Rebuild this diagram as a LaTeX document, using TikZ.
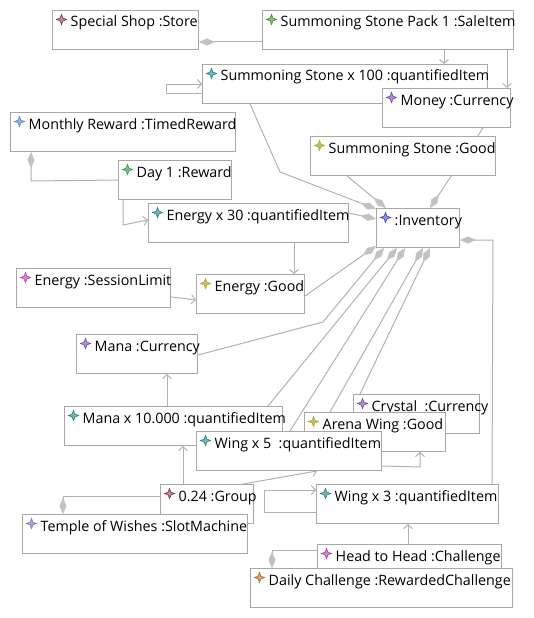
\documentclass[tikz,border=0pt]{standalone}
\usepackage{fontspec}
\setmainfont{Open Sans}
\usetikzlibrary{arrows.meta,calc}
\pgfdeclarelayer{bg}
\pgfsetlayers{bg,main}
\definecolor{boxgray}{HTML}{A8A8A8}
\definecolor{linegray}{HTML}{B2B2B2}
\definecolor{diagray}{HTML}{C2C2C2}
\definecolor{cstore}{HTML}{8B3A62}
\definecolor{csale}{HTML}{4E9A3A}
\definecolor{cquant}{HTML}{2E8B8B}
\definecolor{ccur}{HTML}{7B52AB}
\definecolor{ctimed}{HTML}{6A8FCF}
\definecolor{creward}{HTML}{3F9F4F}
\definecolor{cgood}{HTML}{B5B02E}
\definecolor{cinv}{HTML}{4B4BC8}
\definecolor{csession}{HTML}{CC44BB}
\definecolor{cslot}{HTML}{8A7FD0}
\definecolor{cchal}{HTML}{C040C0}
\definecolor{crewch}{HTML}{B8763A}
\tikzset{
  objbox/.style={draw=boxgray, fill=white, line width=1pt, rectangle, inner sep=0pt, minimum height=39pt},
  objtext/.style={anchor=base west, inner sep=0pt, font=\fontsize{14.3}{16}\selectfont, text=black},
  staricon/.style={line width=0.7pt},
  conn/.style={draw=linegray, line width=1pt},
  arr/.style={conn, -{Straight Barb[length=4pt,width=9pt,line width=1pt]}},
  dia/.style={conn, {Diamond[length=16pt,width=7pt,color=diagray,fill=diagray,line width=0.5pt]}-},
}
\newcommand\umlobj[6]{%
  \node[objbox, minimum width=#4pt, anchor=north west] (#1) at (#2,#3) {};
  \draw[staricon, draw=#5, fill=#5!35!lightgray] ($(#1.north west)+(9.5,9.5)$)
    +(0,-5) -- +(1.4,-1.4) -- +(5,0) -- +(1.4,1.4) -- +(0,5) -- +(-1.4,1.4) -- +(-5,0) -- +(-1.4,-1.4) -- cycle;
  \node[objtext] (#1-t) at ($(#1.north west)+(18.5,17)$) {#6};
}
\begin{document}
\begin{tikzpicture}[x=1pt,y=-1pt]
\begin{pgfonlayer}{bg}
\fill[white] (0,0) rectangle (533,618);
\end{pgfonlayer}
\useasboundingbox (0,0) rectangle (533,618);

\umlobj{shop}{52}{10}{146}{cstore}{Special Shop :Store}
\umlobj{sale}{262}{10}{251}{csale}{Summoning Stone Pack 1 :SaleItem}
\umlobj{ss100}{202}{64}{285}{cquant}{Summoning Stone x 100 :quantifiedItem}
\umlobj{money}{382}{88}{128}{ccur}{Money :Currency}
\umlobj{monthly}{10}{112}{225}{ctimed}{Monthly Reward :TimedReward}
\umlobj{day1}{118}{160}{113}{creward}{Day 1 :Reward}
\umlobj{ssgood}{310}{136}{185}{cgood}{Summoning Stone :Good}
\umlobj{en30}{148}{203}{200}{cquant}{Energy x 30 :quantifiedItem}
\umlobj{inv}{376}{208}{83}{cinv}{:Inventory}
\umlobj{ensl}{16}{268}{154}{csession}{Energy :SessionLimit}
\umlobj{engood}{196}{274}{108}{cgood}{Energy :Good}
\umlobj{manacur}{76}{334}{121}{ccur}{Mana :Currency}
\umlobj{mana10k}{64}{406}{218}{cquant}{Mana x 10.000 :quantifiedItem}
\umlobj{crystal}{353}{394}{126}{ccur}{Crystal~~:Currency}
\umlobj{arena}{304}{412}{141}{cgood}{Arena Wing :Good}
\umlobj{wing5}{196}{431}{185}{cquant}{Wing x 5~~:quantifiedItem}
\umlobj{group}{160}{484}{93}{cstore}{0.24 :Group}
\umlobj{temple}{22}{514}{225}{cslot}{Temple of Wishes :SlotMachine}
\umlobj{wing3}{316}{484}{182}{cquant}{Wing x 3 :quantifiedItem}
\umlobj{h2h}{317}{544}{184}{cchal}{Head to Head :Challenge}
\umlobj{daily}{250}{568}{262}{crewch}{Daily Challenge :RewardedChallenge}

\begin{pgfonlayer}{bg}
\draw[dia] ($(shop.north east)+(0,32)$) -- ($(sale.north west)+(0,32)$);
\draw[arr] ($(sale.south west)+(182,0)$) -- ($(ss100.north west)+(242,0)$);
\draw[arr] ($(sale.south west)+(245,0)$) -- ($(money.north west)+(125,0)$);
\draw[arr] ($(ss100.north west)+(0,29)$) -- ++(-36,0) -- ++(0,-9) -- ($(ss100.north west)+(0,20)$);
\draw[dia] ($(inv.north west)+(0,1)$) -- ($(ss100.south west)+(78,68)$) -- ($(ss100.south west)+(48,0)$);
\draw[dia] ($(inv.north west)+(10,0)$) -- ($(ssgood.south west)+(37,0)$);
\draw[dia] ($(inv.north west)+(54,0)$) -- ($(money.south west)+(101,0)$);
\draw[dia] ($(inv.north west)+(0,11)$) -- ($(en30.north east)+(0,10)$);
\draw[dia] ($(inv.south west)+(0,-2)$) -- ($(engood.north east)+(0,22)$);
\draw[dia] ($(inv.south west)+(8,0)$) -- ($(manacur.north east)+(125,-12)$) -- ($(manacur.north east)+(0,21)$);
\draw[dia] ($(inv.south west)+(21,0)$) -- ($(mana10k.north west)+(204,0)$);
\draw[dia] ($(inv.south west)+(29,0)$) -- ($(wing5.north west)+(94,0)$);
\draw[dia] ($(inv.south west)+(47,0)$) -- ($(arena.north west)+(26,0)$);
\draw[dia] ($(inv.south west)+(54,0)$) -- ($(crystal.north west)+(7,0)$);
\draw[dia] ($(inv.north east)+(0,32)$) -- ++(33,0) -- ($(wing3.north west)+(176,0)$);
\draw[dia] ($(monthly.south west)+(21,0)$) -- ++(0,29) -- ($(day1.north west)+(0,20)$);
\draw[arr] ($(day1.south west)+(5,0)$) -- ++(0,25) -- ($(en30.north west)+(0,17)$);
\draw[arr] ($(en30.south west)+(146,0)$) -- ($(engood.north west)+(98,0)$);
\draw[arr] ($(ensl.north east)+(0,29)$) -- ($(engood.north west)+(0,26)$);
\draw[arr] ($(mana10k.north west)+(103,0)$) -- ($(manacur.south west)+(91,0)$);
\draw[arr] ($(group.north west)+(23,0)$) -- ($(mana10k.south west)+(119,0)$);
\draw[arr] ($(group.north west)+(83,0)$) -- ($(wing5.south west)+(121,0)$);
\draw[dia] ($(temple.north west)+(41,0)$) -- ++(0,-18) -- ($(group.north west)+(0,12)$);
\draw[arr] ($(wing5.north east)+(0,35)$) -- ($(arena.south west)+(116,15)$) -- ($(arena.south west)+(116,0)$);
\draw[arr] ($(wing3.north west)+(0,28)$) -- ++(-52,0) -- ++(0,-22) -- ($(wing3.north west)+(0,6)$);
\draw[arr] ($(h2h.north west)+(91,0)$) -- ($(wing3.south west)+(92,0)$);
\draw[dia] ($(daily.north west)+(22,0)$) -- ++(0,-18) -- ($(h2h.north west)+(0,6)$);
\end{pgfonlayer}
\end{tikzpicture}
\end{document}
